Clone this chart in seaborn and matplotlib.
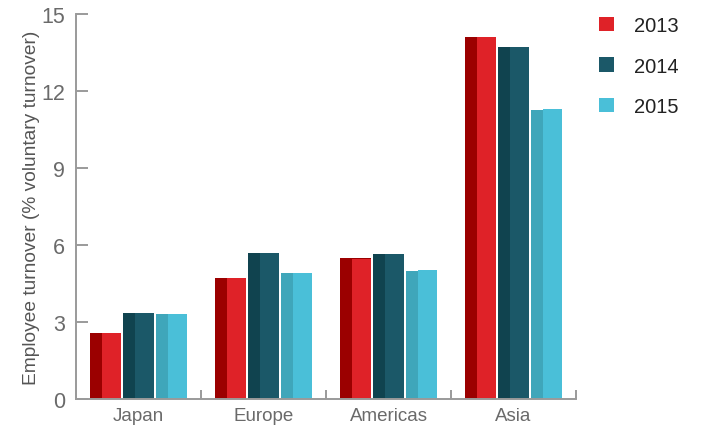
import matplotlib
matplotlib.use("Agg")
import matplotlib.pyplot as plt
from matplotlib import font_manager
import seaborn as sns
import pandas as pd

regions = ["Japan", "Europe", "Americas", "Asia"]
years = ["2013", "2014", "2015"]

# full-height values per year and region
turnover_2013 = [2.57, 4.71, 5.45, 14.12]
turnover_2014 = [3.35, 5.69, 5.65, 13.72]
turnover_2015 = [3.31, 4.91, 5.03, 11.30]

# values for the darker strip on the left edge of each bar
strip_2013 = [2.57, 4.71, 5.49, 14.12]
strip_2014 = [3.35, 5.69, 5.65, 13.72]
strip_2015 = [3.31, 4.91, 4.99, 11.26]

y_ticks = [0, 3, 6, 9, 12, 15]

main_colors = ["#DF2228", "#1B5868", "#4ABFD8"]
strip_colors = ["#9B0000", "#10434F", "#3FA6BA"]
STRIP_FRAC = 0.39

rows = []
for yr, vals, strips in zip(years, [turnover_2013, turnover_2014, turnover_2015],
                            [strip_2013, strip_2014, strip_2015]):
    for reg, v, s in zip(regions, vals, strips):
        rows.append({"region": reg, "year": yr, "value": v, "strip": s})
df = pd.DataFrame(rows)

sns.set_theme(style="white")
plt.rcParams["patch.force_edgecolor"] = False
plt.rcParams["patch.linewidth"] = 0
available = {f.name for f in font_manager.fontManager.ttflist}
base_font = "Liberation Sans Narrow" if "Liberation Sans Narrow" in available else "Liberation Sans"
plt.rcParams["font.family"] = [base_font, "DejaVu Sans"]

fig = plt.figure(figsize=(7.02, 4.27), dpi=100)
ax = fig.add_axes([76 / 702, 27 / 427, 500 / 702, 385 / 427])

bar_kws = dict(order=regions, hue_order=years, width=0.792, gap=0.06, saturation=1,
               errorbar=None, ax=ax)

# darker strips first, full bar width
sns.barplot(data=df, x="region", y="strip", hue="year", palette=strip_colors,
            legend=False, **bar_kws)
n_strip = len(ax.patches)

# main bars on top, trimmed to the right-hand part of each slot
sns.barplot(data=df, x="region", y="value", hue="year", palette=main_colors, **bar_kws)
for i, p in enumerate(ax.patches):
    p.set_linewidth(0)
    p.set_edgecolor("none")
    if i >= n_strip:
        x, w = p.get_x(), p.get_width()
        p.set_x(x + w * STRIP_FRAC)
        p.set_width(w * (1 - STRIP_FRAC))

ax.set_xlim(-0.5, len(regions) - 0.5)
ax.set_ylim(0, 15)
ax.set_yticks(y_ticks)
ax.set_xticks([i - 0.5 for i in range(len(regions) + 1)], minor=True)

axis_gray = "#9A9A9A"
for side in ["top", "right"]:
    ax.spines[side].set_visible(False)
for side in ["left", "bottom"]:
    ax.spines[side].set_color(axis_gray)
    ax.spines[side].set_linewidth(1.4)

ax.tick_params(axis="y", which="major", direction="in", length=8.6, width=1.4,
               color=axis_gray, labelsize=15.5, labelcolor="#6A6A6A", pad=8, left=True)
ax.tick_params(axis="x", which="major", length=0, labelsize=13.5, labelcolor="#6A6A6A", pad=6)
ax.tick_params(axis="x", which="minor", direction="in", length=6.5, width=1.4,
               color=axis_gray, bottom=True)

ax.set_xlabel("")
ax.set_ylabel("Employee turnover (% voluntary turnover)", fontsize=13.8, color="#555555",
              labelpad=1)

sns.move_legend(ax, "upper left", bbox_to_anchor=(591 / 702, 1 - 9 / 427),
                bbox_transform=fig.transFigure, frameon=False, title=None,
                fontsize=14.5, handlelength=0.72, handleheight=0.72,
                handletextpad=1.0, labelspacing=1.07, borderaxespad=0)
leg = ax.get_legend()
for t in leg.get_texts():
    t.set_color("#222222")
for h in leg.legend_handles:
    h.set_linewidth(0)
    h.set_edgecolor("none")

fig.savefig("out.png", dpi=100)
